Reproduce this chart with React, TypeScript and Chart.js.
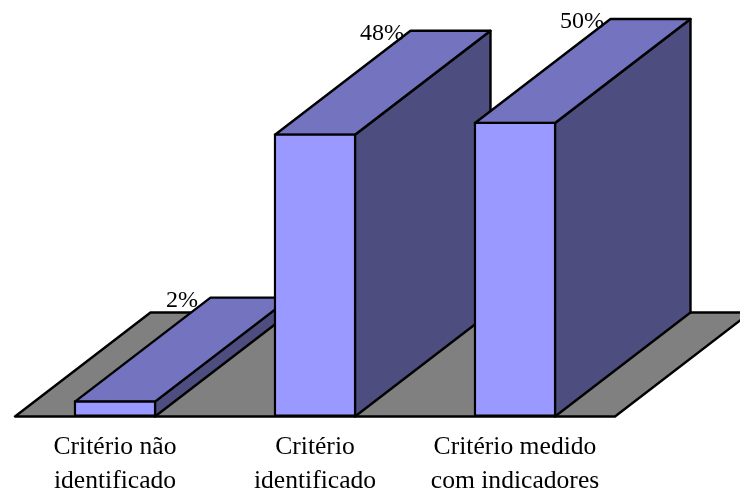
import { useEffect, useRef } from "react";
import { Chart, registerables } from "chart.js";

Chart.register(...registerables);

const categories = [
  ["Critério não", "identificado"],
  ["Critério", "identificado"],
  ["Critério medido", "com indicadores"],
];
const values = [2.7, 48, 50];
const valueLabels = ["2%", "48%", "50%"];

const FONT = '"Liberation Serif", serif';
const DX = 135.5;
const DY = -104;
const FRONT = "#9999FF";
const TOP = "#7373BF";
const SIDE = "#4D4D80";
const FLOOR = "#808080";

function poly(ctx: CanvasRenderingContext2D, pts: number[][], fill: string) {
  ctx.beginPath();
  pts.forEach((p, i) => (i ? ctx.lineTo(p[0], p[1]) : ctx.moveTo(p[0], p[1])));
  ctx.closePath();
  ctx.fillStyle = fill;
  ctx.fill();
  ctx.lineWidth = 2.4;
  ctx.lineJoin = "round";
  ctx.strokeStyle = "#000";
  ctx.stroke();
}

const threeD = {
  id: "threeD",
  beforeDatasetsDraw(chart: any) {
    const { ctx, chartArea: a } = chart;
    ctx.save();
    poly(
      ctx,
      [
        [a.left, a.bottom],
        [a.right, a.bottom],
        [a.right + DX, a.bottom + DY],
        [a.left + DX, a.bottom + DY],
      ],
      FLOOR
    );
    chart.getDatasetMeta(0).data.forEach((el: any) => {
      const l = el.x - el.width / 2 + 1;
      const r = el.x + el.width / 2 - 1;
      const t = el.y + 1;
      const b = el.base;
      poly(ctx, [[r, t], [r + DX, t + DY], [r + DX, b + DY], [r, b]], SIDE);
      poly(ctx, [[l, t], [r, t], [r + DX, t + DY], [l + DX, t + DY]], TOP);
    });
    ctx.restore();
  },
  afterDatasetsDraw(chart: any) {
    const { ctx } = chart;
    ctx.save();
    ctx.font = `24px ${FONT}`;
    ctx.fillStyle = "#000";
    ctx.textAlign = "center";
    ctx.textBaseline = "alphabetic";
    chart.getDatasetMeta(0).data.forEach((el: any, i: number) => {
      const l = el.x - el.width / 2 + 1;
      ctx.fillText(valueLabels[i], l + DX - 28.5, el.y + 1 + DY + 9);
    });
    ctx.restore();
  },
};

export default function App() {
  const ref = useRef<HTMLCanvasElement>(null);
  useEffect(() => {
    const chart = new Chart(ref.current!, {
      type: "bar",
      data: {
        labels: categories,
        datasets: [
          {
            data: values,
            backgroundColor: FRONT,
            borderColor: "#000",
            borderWidth: 2.4,
            borderSkipped: false,
            barThickness: 82,
            clip: false,
          } as any,
        ],
      },
      options: {
        responsive: false,
        animation: false,
        layout: { padding: { left: 15, right: 125, top: 122, bottom: 0 } },
        plugins: { legend: { display: false }, tooltip: { enabled: false } },
        scales: {
          x: {
            grid: { display: false },
            border: { display: false },
            afterFit: (s: any) => {
              s.height = 74.5;
            },
            ticks: {
              color: "#000",
              padding: 6,
              maxRotation: 0,
              autoSkip: false,
              font: { family: FONT, size: 25.6, lineHeight: 1.33 },
            },
          },
          y: { display: false, min: 0, max: 50 },
        },
      },
      plugins: [threeD],
    });
    return () => chart.destroy();
  }, []);
  return (
    <div style={{ position: "absolute", left: 0, top: 0 }}>
      <canvas ref={ref} width={740} height={491} style={{ display: "block" }} />
    </div>
  );
}
